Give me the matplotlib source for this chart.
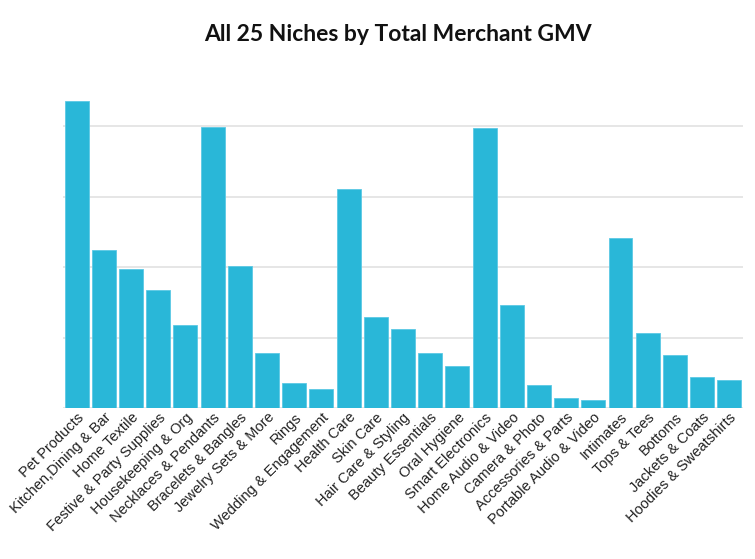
import matplotlib.pyplot as plt
from matplotlib.transforms import ScaledTranslation

# niches in chart order, GMV (gridline units, no axis labels shown)
niches = [
    "Pet Products", "Kitchen,Dining & Bar", "Home Textile", "Festive & Party Supplies",
    "Housekeeping & Org", "Necklaces & Pendants", "Bracelets & Bangles",
    "Jewelry Sets & More", "Rings", "Wedding & Engagement", "Health Care", "Skin Care",
    "Hair Care & Styling", "Beauty Essentials", "Oral Hygiene", "Smart Electronics",
    "Home Audio & Video", "Camera & Photo", "Accessories & Parts", "Portable Audio & Video",
    "Intimates", "Tops & Tees", "Bottoms", "Jackets & Coats", "Hoodies & Sweatshirts",
]
gmv = [
    4.36, 2.25, 1.98, 1.68, 1.18, 3.99, 2.02, 0.79, 0.36, 0.27, 3.11, 1.29,
    1.13, 0.79, 0.60, 3.97, 1.46, 0.33, 0.15, 0.12, 2.42, 1.07, 0.76, 0.45, 0.40,
]
grid_ticks = [0, 1, 2, 3, 4]

BAR_COLOR = "#29b7d8"


def plot_gmv(out_path):
    fig = plt.figure(figsize=(7.55, 5.59), dpi=100)
    ax = fig.add_axes([0.0834, 0.2696, 0.9006, 0.5804])

    x = range(len(niches))
    ax.bar(x, gmv, width=0.88, color=BAR_COLOR, edgecolor="#5cc9e4", linewidth=0.6, zorder=3)

    ax.set_xlim(-0.5, len(niches) - 0.5)
    ax.set_ylim(0, 4.6)
    ax.set_yticks(grid_ticks)
    ax.set_yticklabels([])
    ax.yaxis.grid(True, color="#e2e2e2", linewidth=1.2, zorder=0)
    ax.tick_params(axis="y", length=0)
    ax.tick_params(axis="x", length=0, pad=5)

    ax.set_xticks(list(x))
    ax.set_xticklabels(niches, rotation=45, ha="right", va="center", rotation_mode="anchor",
                       fontsize=10.5, family="Liberation Sans", color="#222222")
    shift = ScaledTranslation(5 / 100, 0, fig.dpi_scale_trans)
    for lbl in ax.get_xticklabels():
        lbl.set_transform(lbl.get_transform() + shift)

    for side in ["top", "right", "left", "bottom"]:
        ax.spines[side].set_visible(False)

    fig.text(0.527, 0.938, "All 25 Niches by Total Merchant GMV", ha="center", va="center",
             fontsize=16.5, fontweight="bold", family="Lato", color="#111111")

    fig.savefig(out_path, dpi=100)
    plt.close(fig)


def main():
    plot_gmv("out.png")


if __name__ == "__main__":
    main()
